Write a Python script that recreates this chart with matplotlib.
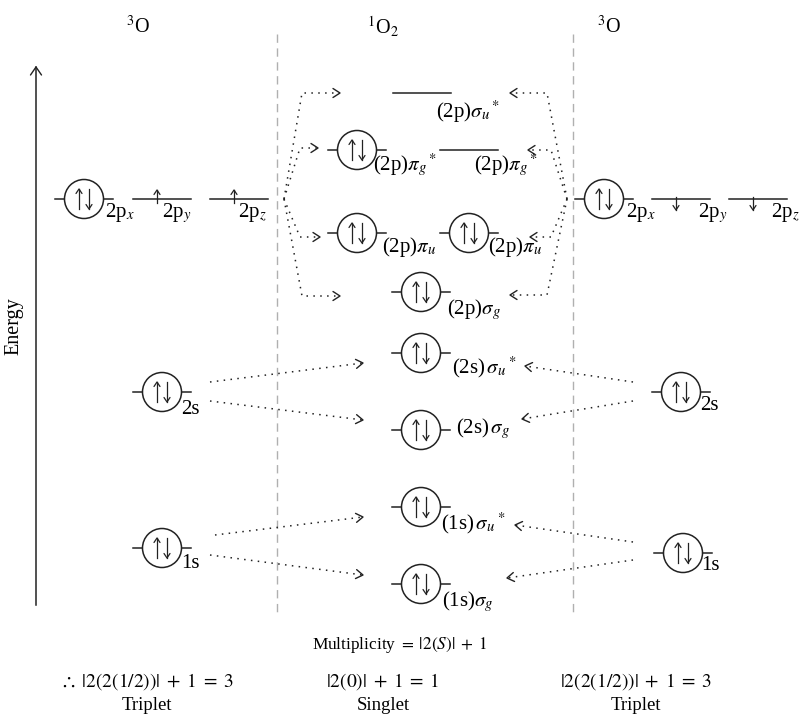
import numpy as np
import matplotlib.pyplot as plt
from matplotlib.patches import Circle

plt.rcParams['font.family'] = ['Liberation Serif', 'DejaVu Sans']
plt.rcParams['mathtext.fontset'] = 'stix'

ink = '#222222'

# column headers
headers = [r'$^{3}$O', r'$^{1}$O$_{2}$', r'$^{3}$O']
header_x = [138, 383, 609]

# left 3O atom: label, level centre x, energy (y in px), filling
left_labels = [r'2p$_x$', r'2p$_y$', r'2p$_z$', '2s', '1s']
left_x = [84, 162, 239, 162, 162]
left_y = [199, 199, 199, 392, 548]
left_fill = ['pair', 'up', 'up', 'pair', 'pair']
left_lab_pos = [(105, 213), (162, 213), (238, 213), (181, 410), (181, 564)]

# right 3O atom
right_labels = [r'2p$_x$', r'2p$_y$', r'2p$_z$', '2s', '1s']
right_x = [604, 681, 758, 681, 683]
right_y = [199, 199, 199, 392, 553]
right_fill = ['pair', 'down', 'down', 'pair', 'pair']
right_lab_pos = [(626, 213), (698, 213), (771, 213), (700, 406), (701, 566)]

# 1O2 molecular orbitals
mo_labels = [r'(2p)$\sigma_u{}^*$', r'(2p)$\pi_g{}^*$', r'(2p)$\pi_g{}^*$',
             r'(2p)$\pi_u$', r'(2p)$\pi_u$', r'(2p)$\sigma_g$',
             r'(2s)$\,\sigma_u{}^*$', r'(2s)$\,\sigma_g$',
             r'(1s)$\,\sigma_u{}^*$', r'(1s)$\sigma_g$']
mo_x = [422, 357, 469, 357, 469, 421, 421, 421, 421, 421]
mo_y = [93, 150, 150, 233, 233, 292, 353, 430, 507, 584]
mo_fill = ['empty', 'pair', 'empty', 'pair', 'pair', 'pair', 'pair', 'pair', 'pair', 'pair']
mo_lab_pos = [(436, 112), (373, 165), (474, 165), (382, 247), (488, 247), (447, 310),
              (452, 367), (456, 429), (441, 523), (442, 602)]

# multiplicity notes
mult_title = r'Multiplicity $=\;|2(S)|\;+\;1$'
mult_eq = [r'$\therefore\;|2(2(1/2))|\;+\;1\;=\;3$', r'$|2(0)|\;+\;1\;=\;1$',
           r'$|2(2(1/2))|\;+\;1\;=\;3$']
mult_name = ['Triplet', 'Singlet', 'Triplet']
mult_x = [147, 383, 636]

fig = plt.figure(figsize=(8.02, 7.19), dpi=100)
ax = fig.add_axes([0, 0, 1, 1])
ax.set_xlim(0, 802)
ax.set_ylim(719, 0)
ax.axis('off')


def arrow_head(tip, d, L=7, W=4.5, lw=1.0):
    d = np.asarray(d, float)
    d = d / np.hypot(*d)
    n = np.array([-d[1], d[0]])
    tip = np.asarray(tip, float)
    a = tip - L * d + W * n
    b = tip - L * d - W * n
    ax.plot([a[0], tip[0], b[0]], [a[1], tip[1], b[1]], color=ink, lw=lw,
            solid_capstyle='round', zorder=4)


def dotted(pts):
    pts = np.array(pts, float)
    ax.plot(pts[:, 0], pts[:, 1], ls=(0, (1, 3.5)), lw=1.1, color=ink)
    arrow_head(pts[-1], pts[-1] - pts[-2])


def spin(x, y0, y1):
    ax.plot([x, x], [y0, y1], color=ink, lw=0.9, zorder=4)
    arrow_head((x, y1), (0, y1 - y0), L=4.5, W=3, lw=0.9)


def level(x, y, fill):
    ax.plot([x - 29, x + 29], [y, y], color=ink, lw=1.1, zorder=2)
    if fill == 'pair':
        ax.add_patch(Circle((x, y), 19.5, facecolor='white', edgecolor=ink,
                            lw=1.1, zorder=3))
        spin(x - 5, y + 10, y - 10)
        spin(x + 5, y - 10, y + 10)
    elif fill == 'up':
        spin(x - 5, y + 4, y - 9)
    elif fill == 'down':
        spin(x - 5, y - 2, y + 11)


# separators and energy axis
for xs in [277, 573]:
    ax.plot([xs, xs], [34, 616], color='#b0b0b0', lw=1.0, ls=(0, (6, 4)))
ax.plot([36, 36], [605, 67], color=ink, lw=1.1)
arrow_head((36, 67), (0, -1), L=8, W=5.5)
ax.text(14, 326, 'Energy', rotation=90, ha='center', va='center', fontsize=14.5)

for h, hx in zip(headers, header_x):
    ax.text(hx, 27, h, ha='center', va='center', fontsize=14.5)

for xs, ys, fs in [(left_x, left_y, left_fill), (right_x, right_y, right_fill), (mo_x, mo_y, mo_fill)]:
    for x, y, f in zip(xs, ys, fs):
        level(x, y, f)
for labs, pos in [(left_labels, left_lab_pos), (right_labels, right_lab_pos), (mo_labels, mo_lab_pos)]:
    for t, (lx, ly) in zip(labs, pos):
        ax.text(lx, ly, t, ha='left', va='center', fontsize=15, zorder=5)

# 2p -> MO connections (left)
lsrc = (284, 199)
dotted([lsrc, (302, 93), (340, 93)])
dotted([lsrc, (300, 148), (318, 148)])
dotted([lsrc, (300, 237), (320, 237)])
dotted([lsrc, (302, 296), (340, 296)])
# right
rsrc = (567, 199)
dotted([rsrc, (547, 93), (510, 93)])
dotted([rsrc, (551, 150), (528, 150)])
dotted([rsrc, (551, 237), (530, 237)])
dotted([rsrc, (547, 295), (510, 295)])

# s connections
dotted([(210, 382), (363, 363)])
dotted([(210, 401), (363, 420)])
dotted([(215, 535), (363, 517)])
dotted([(210, 555), (363, 575)])
dotted([(633, 382), (525, 366)])
dotted([(633, 401), (522, 419)])
dotted([(633, 542), (515, 525)])
dotted([(633, 560), (507, 578)])

ax.text(400, 645, mult_title, ha='center', va='center', fontsize=12.4)
for t, n, mx in zip(mult_eq, mult_name, mult_x):
    ax.text(mx, 682, t, ha='center', va='center', fontsize=14)
    ax.text(mx, 706, n, ha='center', va='center', fontsize=13.5)

fig.savefig('out.png', dpi=100)
